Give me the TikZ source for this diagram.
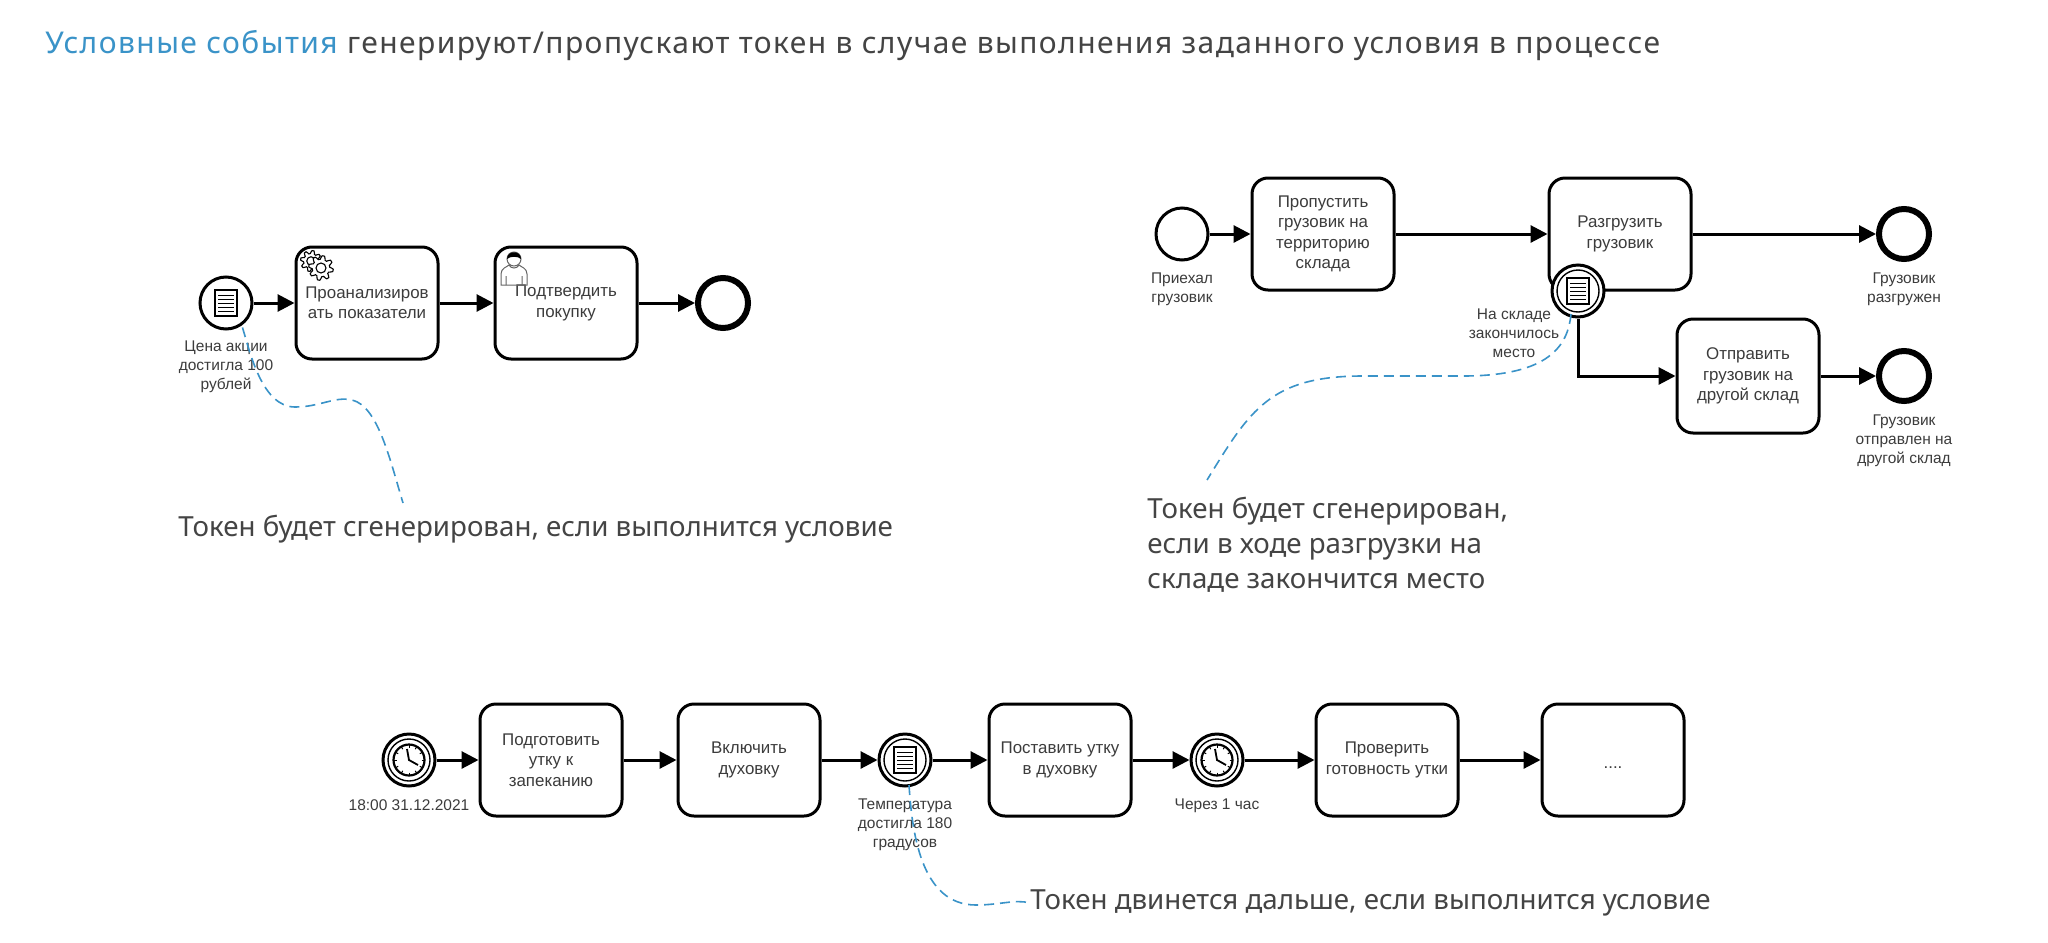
\documentclass[tikz,border=0pt]{standalone}
\usepackage{fontspec}
\setmainfont{Liberation Sans}
\newfontfamily\bigfont{Noto Sans}
\newfontfamily\titlefont[LetterSpace=4.8]{Noto Sans}
\usetikzlibrary{arrows.meta,calc}
\definecolor{noteblue}{HTML}{3A93C8}
\definecolor{txt}{HTML}{444444}
\definecolor{lab}{HTML}{3C3C3C}
\tikzset{
  x=0.5pt,y=-0.5pt,
  task/.style={draw=black,fill=white,line width=1.5pt,rounded corners=8pt,minimum width=71pt,minimum height=56pt,align=center,inner sep=0pt,font=\fontsize{8.45}{10.2}\selectfont,text=lab,execute at begin node={\rule{0pt}{8.6pt}}},
  evt/.style={draw=black,fill=white,circle,line width=1.5pt,minimum size=26pt,inner sep=0pt},
  endevt/.style={draw=black,fill=white,circle,line width=3pt,minimum size=25pt,inner sep=0pt},
  lbl/.style={align=center,inner sep=0pt,font=\fontsize{7.75}{9.6}\selectfont,text=lab},
  flow/.style={line width=1.5pt,-{Triangle[length=8.5pt,width=8.5pt]}},
  note/.style={draw=noteblue,line width=0.8pt,dash pattern=on 5pt off 3pt},
  bigtext/.style={align=left,anchor=west,inner sep=0pt,font=\bigfont\fontsize{13.85}{17.6}\selectfont,text=txt},
  docicon/.pic={
    \draw[line width=0.7pt,fill=white] (-11,-13) rectangle (11,13);
    \foreach \yy in {-8,-4,0,4,8}{\draw[line width=0.45pt] (-8,\yy) -- (8,\yy);}
  },
  inring/.pic={\draw[line width=0.7pt] (0,0) circle[radius=21];},
  clockicon/.pic={
    \draw[line width=0.7pt] (0,0) circle[radius=21];
    \draw[line width=1.1pt] (0,0) circle[radius=15.5];
    \foreach \aa in {0,30,...,330}{\draw[line width=0.5pt] (\aa:12.5) -- (\aa:15);}
    \draw[line width=0.9pt] (-2,-11) -- (0,0) -- (9,5);
  },
  gearicon/.pic={
    \draw[line width=0.55pt,fill=white,draw=black] plot[domain=0:360,samples=65,variable=\t] (\t:{10.5+1.8*sign(sin(8*\t))}) -- cycle;
    \draw[line width=0.55pt,fill=white,draw=black] (0,0) circle[radius=5];
  },
  usericon/.pic={
    \draw[line width=0.5pt,draw=black!60] (-13,20) -- (-13,9) .. controls (-13,3) and (-7,2) .. (-5,0) -- (5,0) .. controls (7,2) and (13,3) .. (13,9) -- (13,20) -- cycle;
    \draw[line width=0.5pt,draw=black!60] (-8,20) -- (-8,11) (8,20) -- (8,11) (-5,0) .. controls (-3,4) and (3,4) .. (5,0);
    \draw[line width=0.5pt,draw=black!60,fill=white] (0,-6) circle[radius=7];
    \fill[black] (-7,-6) .. controls (-7,-15) and (7,-15) .. (7,-6) .. controls (4,-9) and (-4,-9) .. (-7,-6) -- cycle;
  },
}
\begin{document}
\begin{tikzpicture}
\path[use as bounding box,fill=white] (0,0) rectangle (2048,942);

% title
\node[bigtext,font=\titlefont\fontsize{15}{18}\selectfont] (title) at (45,46) {\textcolor{noteblue}{Условные события} генерируют/пропускают токен в случае выполнения заданного условия в процессе};

% left group
\node[evt] (e1) at (226,303) {};
\node[task] (t1) at (367,303) {Проанализиров\\ать показатели};
\node[task] (t2) at (566,303) {Подтвердить\\покупку};
\node[endevt] (e2) at (723,303) {};
\node[lbl] (l1) at (226,367) {Цена акции\\достигла 100\\рублей};
\pic at (e1) {docicon};
\pic[scale=0.85] at (311,261) {gearicon};
\pic at (321,268) {gearicon};
\pic at (514,265) {usericon};
\draw[flow] (e1) -- (t1);
\draw[flow] (t1) -- (t2);
\draw[flow] (t2) -- (e2);
\coordinate (n1) at (403,503);
\draw[note] (e1.south east) ++(-3,5) .. controls (250,352) and (262,407) .. (295,407) .. controls (320,407) and (335,396) .. (352,400) .. controls (378,406) and (390,460) .. (n1);
\node[bigtext] (tx1) at (178,529) {Токен будет сгенерирован, если выполнится условие};

% right group
\node[evt] (s2) at (1182,234) {};
\node[task] (r1) at (1323,234) {Пропустить\\грузовик на\\территорию\\склада};
\node[task] (r2) at (1620,234) {Разгрузить\\грузовик};
\node[endevt] (r3) at (1904,234) {};
\node[evt] (b1) at (1578,291) {};
\node[task,minimum height=57pt] (r4) at (1748,376) {Отправить\\грузовик на\\другой склад};
\node[endevt] (r5) at (1904,376) {};
\pic at (b1) {inring};
\pic at (b1) {docicon};
\node[lbl] (l2) at (1182,289) {Приехал\\грузовик};
\node[lbl] (l3) at (1514,333) {На складе\\закончилось\\место};
\node[lbl] (l4) at (1904,289) {Грузовик\\разгружен};
\node[lbl] (l5) at (1904,441) {Грузовик\\отправлен на\\другой склад};
\draw[flow] (s2) -- (r1);
\draw[flow] (r1) -- (r2);
\draw[flow] (r2) -- (r3);
\draw[flow] (b1.south) |- (r4.west);
\draw[flow] (r4) -- (r5);
\coordinate (n2) at (1207,480);
\draw[note] (1571,314) .. controls (1568,345) and (1550,376) .. (1463,376) .. controls (1420,376) and (1400,376) .. (1363,376) .. controls (1270,376) and (1250,410) .. (n2);
\node[bigtext] (tx2) at (1147,545) {Токен будет сгенерирован,\\если в ходе разгрузки на\\складе закончится место};

% bottom group
\node[evt] (c0) at (409,760) {};
\node[task] (c1) at (551,760) {Подготовить\\утку к\\запеканию};
\node[task] (c2) at (749,760) {Включить\\духовку};
\node[evt] (c3) at (905,760) {};
\node[task] (c4) at (1060,760) {Поставить утку\\в духовку};
\node[evt] (c5) at (1217,760) {};
\node[task] (c6) at (1387,760) {Проверить\\готовность утки};
\node[task] (c7) at (1613,760) {....};
\pic at (c0) {clockicon};
\pic at (c3) {inring};
\pic at (c3) {docicon};
\pic at (c5) {clockicon};
\node[lbl] (l6) at (409,805) {18:00 31.12.2021};
\node[lbl] (l7) at (905,825) {Температура\\достигла 180\\градусов};
\node[lbl] (l8) at (1217,806) {Через 1 час};
\draw[flow] (c0) -- (c1);
\draw[flow] (c1) -- (c2);
\draw[flow] (c2) -- (c3);
\draw[flow] (c3) -- (c4);
\draw[flow] (c4) -- (c5);
\draw[flow] (c5) -- (c6);
\draw[flow] (c6) -- (c7);
\node[bigtext] (tx3) at (1030,903) {Токен двинется дальше, если выполнится условие};
\draw[note] (909,785) .. controls (912,830) and (920,905) .. (976,905) .. controls (1000,905) and (1015,899) .. (tx3.west);
\end{tikzpicture}
\end{document}
